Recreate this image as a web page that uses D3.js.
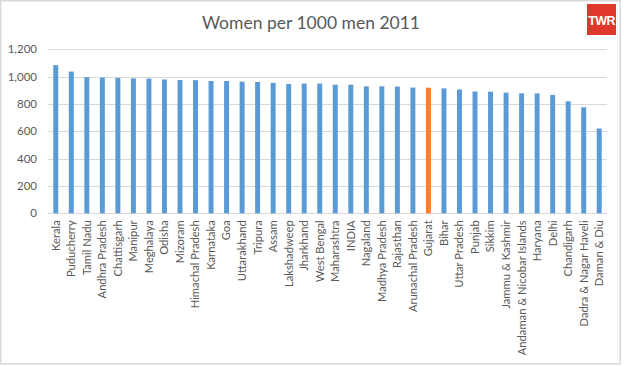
<!DOCTYPE html>
<html>
<head>
<meta charset="utf-8">
<script src="https://cdn.jsdelivr.net/npm/d3@7"></script>
<style>
  html, body { margin: 0; padding: 0; background: #fff; }
  svg { display: block; }
</style>
</head>
<body>
<div id="chart"></div>
<script>
const title = "Women per 1000 men 2011";
const categories = ["Kerala","Puducherry","Tamil Nadu","Andhra Pradesh","Chattisgarh","Manipur","Meghalaya","Odisha","Mizoram","Himachal Pradesh","Karnataka","Goa","Uttarakhand","Tripura","Assam","Lakshadweep","Jharkhand","West Bengal","Maharashtra","INDIA","Nagaland","Madhya Pradesh","Rajasthan","Arunachal Pradesh","Gujarat","Bihar","Uttar Pradesh","Punjab","Sikkim","Jammu & Kashmir","Andaman & Nicobar Islands","Haryana","Delhi","Chandigarh","Dadra & Nagar Haveli","Daman & Diu"];
const values = [1084,1037,996,993,991,987,986,979,975,974,968,968,963,961,954,946,949,949,941,941,929,929,927,920,919,914,906,891,890,883,878,877,866,820,776,620];
const highlight = ["Gujarat"];
const yTicks = [0,200,400,600,800,1000,1200];

const W = 624, H = 366;
const svg = d3.select("#chart").append("svg").attr("width", W).attr("height", H);

// outer frame
svg.append("rect").attr("x", 0.75).attr("y", 0.75).attr("width", 619.5).attr("height", 363)
  .attr("fill", "#fff").attr("stroke", "#d9d9d9").attr("stroke-width", 1.5);

const x = d3.scaleBand().domain(categories).range([48, 607]).paddingInner(0.68).paddingOuter(0.34);
const y = d3.scaleLinear().domain([0, 1200]).range([213.3, 49.3]);

// gridlines
svg.append("g").selectAll("line").data(yTicks).join("line")
  .attr("x1", 48).attr("x2", 607)
  .attr("y1", d => Math.round(y(d)) + 0.5).attr("y2", d => Math.round(y(d)) + 0.5)
  .attr("stroke", "#d9d9d9").attr("stroke-width", 1);

// y axis labels
const yAxis = d3.axisLeft(y).tickValues(yTicks).tickFormat(d3.format(",")).tickSize(0).tickPadding(0);
const gy = svg.append("g").attr("transform", "translate(37,0)").call(yAxis);
gy.select(".domain").remove();
gy.selectAll("text").attr("fill", "#595959").style("font-family", "Lato, 'Open Sans', sans-serif").style("font-size", "11.5px");

// bars
svg.append("g").selectAll("rect").data(categories).join("rect")
  .attr("x", d => x(d))
  .attr("width", x.bandwidth())
  .attr("y", (d, i) => y(values[i]))
  .attr("height", (d, i) => y(0) - y(values[i]))
  .attr("fill", d => highlight.includes(d) ? "#ff7f27" : "#5b9bd5");

// x axis labels
const xAxis = d3.axisBottom(x).tickSize(0).tickPadding(0);
const gx = svg.append("g").attr("transform", "translate(0,213.3)").call(xAxis);
gx.select(".domain").remove();
gx.selectAll("text")
  .attr("transform", "rotate(-90)")
  .attr("x", -7).attr("y", 0).attr("dy", "0.35em")
  .style("text-anchor", "end")
  .attr("fill", "#595959")
  .style("font-family", "Lato, 'Open Sans', sans-serif")
  .style("font-size", "11.2px");

// title
svg.append("text").attr("x", 311).attr("y", 29).attr("text-anchor", "middle")
  .attr("fill", "#595959").style("font-family", "Lato, 'Open Sans', sans-serif").style("font-size", "17.5px")
  .text(title);

// logo
svg.append("rect").attr("x", 587).attr("y", 4).attr("width", 29).attr("height", 31).attr("fill", "#e0362c");
svg.append("text").attr("x", 601.5).attr("y", 25).attr("text-anchor", "middle").attr("fill", "#fff")
  .style("font-family", "'Liberation Sans', Arial, sans-serif").style("font-weight", "bold").style("font-size", "12.5px")
  .style("letter-spacing", "-0.6px")
  .text("TWR");
</script>
</body>
</html>
